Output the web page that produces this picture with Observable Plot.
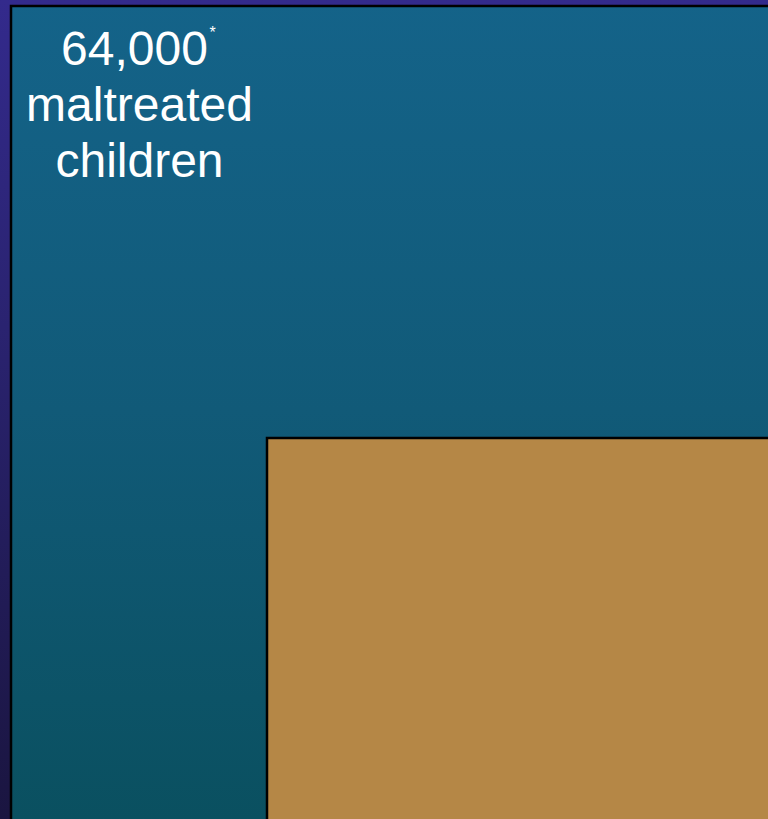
<!DOCTYPE html>
<html>
<head>
<meta charset="utf-8">
<script src="https://cdn.jsdelivr.net/npm/d3@7"></script>
<script src="https://cdn.jsdelivr.net/npm/@observablehq/plot@0.6"></script>
<style>
  html, body { margin: 0; padding: 0; overflow: hidden; background: #1a1540; }
  svg { overflow: hidden; }
</style>
</head>
<body>
<div id="chart"></div>
<script>
// Proportional squares (data units = pixels of the slide frame)
const squareNames = ["maltreated children", "subset"];
const squareLeft   = [11, 267];
const squareTop    = [6, 438];
const squareRight  = [800, 800];
const squareBottom = [860, 860];
const squareFills  = ["url(#tealGrad)", "#b58746"];

const labelLines = ["64,000", "maltreated", "children"];
const labelCenters = [134, 139, 139];
const labelNote = "*";

const squares = squareNames.map((name, i) => ({
  name, x1: squareLeft[i], x2: squareRight[i], y1: squareTop[i], y2: squareBottom[i], fill: squareFills[i]
}));
const labels = labelLines.map((t, i) => ({ text: t, line: i, cx: labelCenters[i] }));

const W = 768, H = 819;
const chart = Plot.plot({
  width: W,
  height: H,
  margin: 0,
  x: { domain: [0, W], range: [0, W], axis: null },
  y: { domain: [0, H], range: [0, H], axis: null },
  style: {
    background: "linear-gradient(to bottom, #332a8c 0%, #2a2370 40%, #1a1540 100%)",
    fontFamily: "'Liberation Sans', Arial, sans-serif",
    overflow: "hidden"
  },
  marks: [
    Plot.rect(squares, { x1: "x1", x2: "x2", y1: "y1", y2: "y2", fill: "fill", stroke: "#000", strokeWidth: 2.5 }),
    Plot.text(labels, {
      x: "cx",
      y: d => 64 + d.line * 56,
      text: "text",
      fill: "white",
      fontSize: 48,
      lineAnchor: "bottom",
      textAnchor: "middle"
    }),
    Plot.text([labelNote], {
      x: () => 212,
      y: () => 37,
      text: d => d,
      fill: "white",
      fontSize: 16,
      lineAnchor: "bottom",
      textAnchor: "middle"
    })
  ]
});

const ns = "http://www.w3.org/2000/svg";
const defs = document.createElementNS(ns, "defs");
const grad = document.createElementNS(ns, "linearGradient");
grad.setAttribute("id", "tealGrad");
grad.setAttribute("gradientUnits", "userSpaceOnUse");
grad.setAttribute("x1", "0"); grad.setAttribute("x2", "0");
grad.setAttribute("y1", "0"); grad.setAttribute("y2", String(H));
[["0%", "#146389"], ["50%", "#115a78"], ["100%", "#0a5060"]].forEach(([o, c]) => {
  const s = document.createElementNS(ns, "stop");
  s.setAttribute("offset", o); s.setAttribute("stop-color", c);
  grad.appendChild(s);
});
defs.appendChild(grad);
chart.insertBefore(defs, chart.firstChild);
document.getElementById("chart").appendChild(chart);
</script>
</body>
</html>
